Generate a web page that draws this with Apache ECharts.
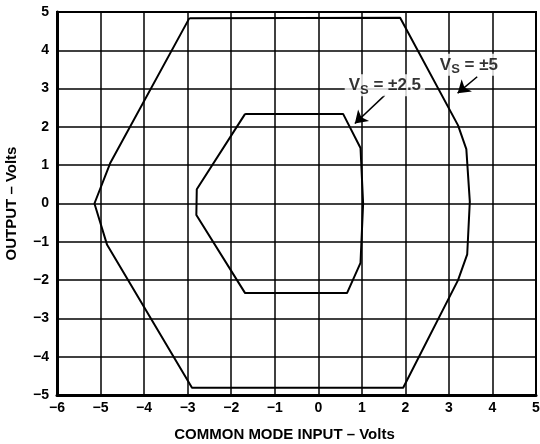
<!DOCTYPE html>
<html>
<head>
<meta charset="utf-8">
<script src="https://cdn.jsdelivr.net/npm/echarts@6/dist/echarts.min.js"></script>
<style>
  html, body { margin: 0; padding: 0; background: #fff; }
  #chart { width: 540px; height: 444px; }
</style>
</head>
<body>
<div id="chart"></div>
<script>
// Vs = +/-5 boundary (common mode input, output)
var outerX = [-2.96, 1.88, 3.21, 3.40, 3.48, 3.42, 3.21, 1.95, -2.90, -4.85, -5.14, -4.78, -2.96];
var outerY = [4.84, 4.85, 2.04, 1.42, 0.05, -1.33, -2.0, -4.81, -4.81, -1.08, 0.0, 1.05, 4.84];

// Vs = +/-2.5 boundary
var innerX = [-1.68, 0.57, 0.97, 1.03, 0.97, 0.66, -1.68, -2.80, -2.79, -1.68];
var innerY = [2.34, 2.34, 1.45, 0.0, -1.55, -2.34, -2.34, -0.30, 0.37, 2.34];

// annotations
var labelSub = ['±5', '±2.5'];
var labelX = [3.46, 1.53];
var labelY = [3.62, 3.09];
var arrowFromX = [3.65, 1.53];
var arrowFromY = [3.31, 2.83];
var arrowToX = [3.20, 0.84];
var arrowToY = [2.88, 2.09];

function pairs(xs, ys) {
    return xs.map(function (x, i) { return [x, ys[i]]; });
}

var font = 'Liberation Sans';
var minus = function (v) { return String(v).replace('-', '\u2212'); };

var chart = echarts.init(document.getElementById('chart'));

var option = {
    animation: false,
    grid: {
        left: 57,
        right: 4,
        top: 12,
        bottom: 49,
        outerBoundsMode: 'none',
        containLabel: false,
        show: true,
        borderColor: '#000',
        borderWidth: 2
    },
    xAxis: {
        type: 'value',
        min: -6,
        max: 5,
        interval: 1,
        name: 'COMMON MODE INPUT \u2013 Volts',
        nameLocation: 'middle',
        nameGap: 32,
        nameTextStyle: { fontFamily: font, fontWeight: 'bold', fontSize: 15, color: '#000', padding: [0, 24, 0, 0] },
        axisLine: { onZero: false, lineStyle: { color: '#000', width: 3 } },
        axisTick: { show: false },
        axisLabel: { formatter: minus, fontFamily: font, fontWeight: 'bold', fontSize: 14, color: '#000', margin: 6 },
        splitLine: { lineStyle: { color: '#000', width: 1.5 } }
    },
    yAxis: {
        type: 'value',
        min: -5,
        max: 5,
        interval: 1,
        name: 'OUTPUT \u2013 Volts',
        nameLocation: 'middle',
        nameGap: 38,
        nameTextStyle: { fontFamily: font, fontWeight: 'bold', fontSize: 15, color: '#000' },
        axisLine: { onZero: false, lineStyle: { color: '#000', width: 3 } },
        axisTick: { show: false },
        axisLabel: { formatter: minus, fontFamily: font, fontWeight: 'bold', fontSize: 14, color: '#000', margin: 8 },
        splitLine: { lineStyle: { color: '#000', width: 1.5 } }
    },
    series: [
        {
            type: 'line',
            data: pairs(outerX, outerY),
            showSymbol: false,
            lineStyle: { color: '#000', width: 2 },
            z: 3
        },
        {
            type: 'line',
            data: pairs(innerX, innerY),
            showSymbol: false,
            lineStyle: { color: '#000', width: 2 },
            z: 3
        },
        {
            type: 'lines',
            coordinateSystem: 'cartesian2d',
            symbol: ['none', 'arrow'],
            symbolSize: 12,
            lineStyle: { color: '#000', width: 1.5, opacity: 1 },
            data: arrowFromX.map(function (x, i) {
                return { coords: [[x, arrowFromY[i]], [arrowToX[i], arrowToY[i]]] };
            }),
            z: 4
        },
        {
            type: 'scatter',
            symbolSize: 0,
            data: pairs(labelX, labelY),
            label: {
                show: true,
                position: 'inside',
                backgroundColor: '#fff',
                padding: [0, 4, 0, 4],
                formatter: function (p) { return '{v|V}{s|S}{t| = ' + labelSub[p.dataIndex] + '}'; },
                rich: {
                    v: { fontFamily: font, fontWeight: 'bold', fontSize: 17, color: '#000', lineHeight: 22 },
                    s: { fontFamily: font, fontWeight: 'bold', fontSize: 13, color: '#000', padding: [10, 0, 0, 0], lineHeight: 22 },
                    t: { fontFamily: font, fontWeight: 'bold', fontSize: 17, color: '#000', lineHeight: 22 }
                }
            },
            z: 5
        }
    ]
};

chart.setOption(option);

window.onresize = function () {
    chart.resize();
};
</script>
</body>
</html>
